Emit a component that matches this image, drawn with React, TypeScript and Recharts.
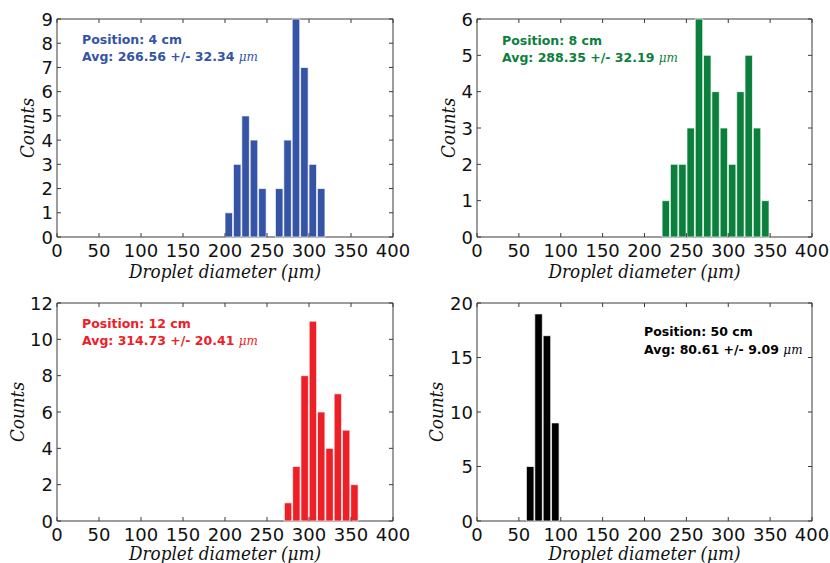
import { BarChart, Bar, XAxis, YAxis, ReferenceArea } from 'recharts';

// shared x ticks (droplet diameter, µm)
const xTicks = [0, 50, 100, 150, 200, 250, 300, 350, 400];

// Position: 4 cm
const edges4 = [200, 210, 220, 230, 240, 250, 260, 270, 280, 290, 300, 310, 320];
const counts4 = [1, 3, 5, 4, 2, 0, 2, 4, 9, 7, 3, 2];
const yTicks4 = [0, 1, 2, 3, 4, 5, 6, 7, 8, 9];

// Position: 8 cm
const edges8 = [221, 230.9, 240.8, 250.7, 260.6, 270.5, 280.4, 290.3, 300.2, 310.1, 320, 329.9, 339.8, 349.7];
const counts8 = [1, 2, 2, 3, 6, 5, 4, 3, 2, 4, 5, 3, 1];
const yTicks8 = [0, 1, 2, 3, 4, 5, 6];

// Position: 12 cm
const edges12 = [270.6, 280.5, 290.4, 300.2, 310.1, 320, 329.9, 339.8, 349.6, 359.5];
const counts12 = [1, 3, 8, 11, 6, 4, 7, 5, 2];
const yTicks12 = [0, 2, 4, 6, 8, 10, 12];

// Position: 50 cm
const edges50 = [59, 69, 79, 89, 99];
const counts50 = [5, 19, 17, 9];
const yTicks50 = [0, 5, 10, 15, 20];

const TICK_FONT = 'DejaVu Sans';
const LABEL_FONT = '"DejaVu Serif", serif';
const FRAME = '#3a3a3a';
const EXTRA = 14; // room below the axis so the x label is not clipped

function toBins(edges: number[], counts: number[]) {
  return counts.map((c, i) => ({ x: (edges[i] + edges[i + 1]) / 2, count: c }));
}

interface PanelProps {
  left: number;
  top: number;
  width: number;
  height: number;
  mTop: number;
  mRight: number;
  yAxisWidth: number;
  xAxisHeight: number;
  edges: number[];
  counts: number[];
  yTicks: number[];
  color: string;
  position: string;
  avg: string;
  annotX: number;
  annotY: number;
  lineGap: number;
  yLabelOffset: number;
  xLabelOffset: number;
}

function Panel(p: PanelProps) {
  const plotW = p.width - p.yAxisWidth - p.mRight;
  const plotH = p.height - p.mTop - p.xAxisHeight;
  const barSize = ((p.edges[1] - p.edges[0]) * plotW) / 400;
  const yMax = p.yTicks[p.yTicks.length - 1];

  const xTick = (t: any) => (
    <g>
      <line x1={t.x} y1={t.y} x2={t.x} y2={t.y - 4} stroke={FRAME} />
      <line x1={t.x} y1={t.y - plotH} x2={t.x} y2={t.y - plotH + 4} stroke={FRAME} />
      <text x={t.x} y={t.y + 19.5} textAnchor="middle" fontFamily={TICK_FONT} fontSize={18} fill="#111">
        {t.payload.value}
      </text>
    </g>
  );

  const yTick = (t: any) => (
    <g>
      <line x1={t.x} y1={t.y} x2={t.x + 4} y2={t.y} stroke={FRAME} />
      <line x1={t.x + plotW} y1={t.y} x2={t.x + plotW - 4} y2={t.y} stroke={FRAME} />
      <text x={t.x - 4} y={t.y + 6.5} textAnchor="end" fontFamily={TICK_FONT} fontSize={18} fill="#111">
        {t.payload.value}
      </text>
    </g>
  );

  const annot = (lp: any) => {
    const vb = lp.viewBox || { x: p.yAxisWidth, y: p.mTop };
    const x = vb.x + p.annotX;
    const y = vb.y + p.annotY;
    return (
      <text x={x} y={y} fill={p.color} fontFamily={TICK_FONT} fontWeight="bold" fontSize={12.5}>
        <tspan x={x} y={y}>{p.position}</tspan>
        <tspan x={x} y={y + p.lineGap}>
          {p.avg + ' '}
          <tspan fontFamily={LABEL_FONT} fontStyle="italic" fontWeight="normal" fontSize={12}>
            μm
          </tspan>
        </tspan>
      </text>
    );
  };

  const xLabel = (lp: any) => {
    const vb = lp.viewBox || { x: p.yAxisWidth, y: p.mTop + plotH, width: plotW };
    return (
      <text
        x={vb.x + vb.width / 2}
        y={vb.y + p.xLabelOffset}
        textAnchor="middle"
        fontFamily={LABEL_FONT}
        fontStyle="italic"
        fontSize={18}
        textLength={192}
        lengthAdjust="spacingAndGlyphs"
        fill="#111"
      >
        Droplet diameter (μm)
      </text>
    );
  };

  const yLabel = (lp: any) => {
    const vb = lp.viewBox || { x: 0, y: p.mTop, width: p.yAxisWidth, height: plotH };
    const cx = vb.x + vb.width - p.yLabelOffset;
    const cy = vb.y + vb.height / 2;
    return (
      <text
        x={cx}
        y={cy}
        transform={`rotate(-90, ${cx}, ${cy})`}
        textAnchor="middle"
        dominantBaseline="central"
        fontFamily={LABEL_FONT}
        fontStyle="italic"
        fontSize={18}
        textLength={60}
        lengthAdjust="spacingAndGlyphs"
        fill="#111"
      >
        Counts
      </text>
    );
  };

  return (
    <div style={{ position: 'absolute', left: p.left, top: p.top }}>
      <BarChart
        width={p.width}
        height={p.height}
        data={toBins(p.edges, p.counts)}
        margin={{ top: p.mTop, right: p.mRight, bottom: 0, left: 0 }}
        barGap={0}
        barCategoryGap={0}
      >
        <XAxis
          dataKey="x"
          type="number"
          domain={[0, 400]}
          ticks={xTicks}
          interval={0}
          height={p.xAxisHeight}
          tickSize={0}
          tickMargin={0}
          axisLine={false}
          tick={xTick}
          label={{ content: xLabel }}
        />
        <YAxis
          type="number"
          domain={[0, yMax]}
          ticks={p.yTicks}
          interval={0}
          width={p.yAxisWidth}
          tickSize={0}
          tickMargin={0}
          axisLine={false}
          tick={yTick}
          label={{ content: yLabel }}
        />
        <Bar
          dataKey="count"
          fill={p.color}
          stroke="rgba(255,255,255,0.7)"
          strokeWidth={1}
          barSize={barSize}
          isAnimationActive={false}
        />
        <ReferenceArea
          x1={0}
          x2={400}
          y1={0}
          y2={yMax}
          fill="none"
          fillOpacity={0}
          stroke={FRAME}
          strokeWidth={1}
          label={annot}
        />
      </BarChart>
    </div>
  );
}

export default function App() {
  return (
    <div
      style={{
        position: 'absolute',
        left: 0,
        top: 0,
        width: 830,
        height: 563,
        background: '#fff',
        overflow: 'hidden',
      }}
    >
      <Panel
        left={0}
        top={0}
        width={415}
        height={280 + EXTRA}
        mTop={19}
        mRight={22}
        yAxisWidth={57}
        xAxisHeight={43 + EXTRA}
        edges={edges4}
        counts={counts4}
        yTicks={yTicks4}
        color="#3554a5"
        position="Position: 4 cm"
        avg="Avg: 266.56 +/- 32.34"
        annotX={25}
        annotY={25}
        lineGap={17}
        yLabelOffset={30}
        xLabelOffset={41}
      />
      <Panel
        left={415}
        top={0}
        width={415}
        height={280 + EXTRA}
        mTop={19}
        mRight={18}
        yAxisWidth={62}
        xAxisHeight={43 + EXTRA}
        edges={edges8}
        counts={counts8}
        yTicks={yTicks8}
        color="#0b7f3c"
        position="Position: 8 cm"
        avg="Avg: 288.35 +/- 32.19"
        annotX={25}
        annotY={26}
        lineGap={17}
        yLabelOffset={29}
        xLabelOffset={41}
      />
      <Panel
        left={0}
        top={280}
        width={415}
        height={283 + EXTRA}
        mTop={23}
        mRight={22}
        yAxisWidth={57}
        xAxisHeight={42 + EXTRA}
        edges={edges12}
        counts={counts12}
        yTicks={yTicks12}
        color="#ee2027"
        position="Position: 12 cm"
        avg="Avg: 314.73 +/- 20.41"
        annotX={25}
        annotY={25}
        lineGap={17}
        yLabelOffset={40}
        xLabelOffset={39}
      />
      <Panel
        left={415}
        top={280}
        width={415}
        height={283 + EXTRA}
        mTop={23}
        mRight={18}
        yAxisWidth={62}
        xAxisHeight={42 + EXTRA}
        edges={edges50}
        counts={counts50}
        yTicks={yTicks50}
        color="#000000"
        position="Position: 50 cm"
        avg="Avg: 80.61 +/- 9.09"
        annotX={167}
        annotY={33}
        lineGap={18}
        yLabelOffset={41}
        xLabelOffset={39}
      />
    </div>
  );
}
